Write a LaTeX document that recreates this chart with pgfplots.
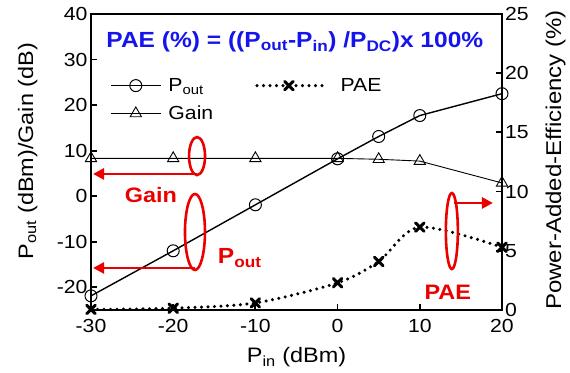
\documentclass[border=0pt]{standalone}
\usepackage{fontspec}
\setmainfont{Liberation Sans}[FakeStretch=1.12]
\usepackage{pgfplots}
\pgfplotsset{compat=1.18}
\usetikzlibrary{arrows.meta}
\definecolor{annred}{RGB}{235,0,0}
\definecolor{titleblue}{RGB}{20,20,235}
\pgfplotsset{
  legA/.style={legend image code/.code={\draw[mark repeat=2,mark phase=2,##1] plot coordinates {(0bp,0bp) (25bp,0bp) (50bp,0bp)};\path (55bp,0bp);}},
  legB/.style={legend image code/.code={\draw[mark repeat=2,mark phase=2,##1] plot coordinates {(0bp,0bp) (32bp,0bp) (65bp,0bp)};\path (80bp,0bp);}},
  gainstyle/.style={black, line width=0.9bp, mark=triangle, mark size=6.5bp, mark options={fill=white, line width=0.9bp}},
  paestyle/.style={black, line width=3.4bp, dash pattern=on 0bp off 6.5bp, line cap=round, mark=x, mark size=6bp, mark options={solid, line width=3bp}},
}
\begin{document}
\begin{tikzpicture}
\useasboundingbox (-91bp,-63bp) rectangle (479bp,310bp);
\pgfplotsset{
  common/.style={
    at={(0,0)}, anchor=south west, scale only axis,
    width=411bp, height=296bp,
    xmin=-30, xmax=20, clip=false,
    /pgf/number format/assume math mode=true,
    tick label style={font=\fontsize{19}{22}\selectfont},
    tick align=inside, major tick length=6bp,
    every tick/.style={black, line width=1.8bp},
    axis line style={line width=2.6bp},
  }
}
\begin{axis}[common,
  ymin=-25, ymax=40, ytick={-20,-10,0,10,20,30,40},
  xtick={-30,-20,-10,0,10,20},
  ytick pos=left, xtick pos=bottom,
  xticklabel style={yshift=-8bp, inner sep=1bp},
  ylabel={P\textsubscript{out} (dBm)/Gain (dB)},
  ylabel style={font=\fontsize{21}{24}\selectfont, at={(axis description cs:-0.141,0.537)}, anchor=base, rotate=0},
  xlabel={P\textsubscript{in} (dBm)},
  xlabel style={font=\fontsize{21}{24}\selectfont, at={(axis description cs:0.5,-0.179)}, anchor=base},
  legend columns=2,
  legend cell align=left,
  legend style={draw=none, fill=none, at={(axis description cs:0.046,0.79)}, anchor=north west,
    inner sep=0pt, font=\fontsize{19}{22}\selectfont, row sep=9bp,
    /tikz/column 2/.style={column sep=40bp}},
]
\addplot[gainstyle, forget plot]
  coordinates {(-30,8.3) (-20,8.3) (-10,8.3) (0,8.3) (5,8.1) (10,7.7) (20,2.9)};
\addplot[black, line width=1.4bp, mark=o, mark size=6bp, mark options={fill=white, line width=1bp}, legA]
  coordinates {(-30,-21.9) (-20,-12.0) (-10,-1.9) (0,8.2) (5,13.1) (10,17.7) (20,22.5)};
\addlegendentry{P\textsubscript{out}}
\addlegendimage{paestyle, legB}
\addlegendentry{PAE}
\addlegendimage{gainstyle, legA}
\addlegendentry{Gain}
\end{axis}
\begin{axis}[common,
  ymin=0, ymax=25, ytick={0,5,10,15,20,25},
  axis x line=none, axis y line*=right,
  yticklabel style={inner sep=1bp, xshift=2bp},
  ylabel={Power-Added-Efficiency (\%)},
  ylabel style={font=\fontsize{21.5}{24}\selectfont, at={(axis description cs:1.144,0.507)}, anchor=base, rotate=0},
]
\addplot[paestyle, smooth, tension=0.5]
  coordinates {(-30,0.05) (-20,0.15) (-10,0.6) (0,2.3) (5,4.1) (10,7.0) (20,5.3)};
\begin{scope}[annred, line width=2.6bp]
\draw (axis cs:-17.1,13.0) ellipse [x radius=8bp, y radius=19bp];
\draw[-{Triangle[length=11bp,width=11bp]}] (axis cs:-17.1,11.49) -- (axis cs:-29.75,11.49);
\draw (axis cs:-17.35,6.59) ellipse [x radius=10bp, y radius=38bp];
\draw[-{Triangle[length=11bp,width=11bp]}] (axis cs:-17.35,3.55) -- (axis cs:-29.75,3.55);
\draw (axis cs:13.9,6.67) ellipse [x radius=6bp, y radius=38bp];
\draw[-{Triangle[length=11bp,width=11bp]}] (axis cs:14.2,9.04) -- (axis cs:18.9,9.04);
\end{scope}
\node[annred, font=\fontsize{21}{24}\selectfont\bfseries] at (axis cs:-22.7,9.71) {Gain};
\node[annred, font=\fontsize{22}{24}\selectfont\bfseries] at (axis cs:-11.9,4.39) {P\textsubscript{out}};
\node[annred, font=\fontsize{21}{24}\selectfont\bfseries] at (axis cs:13.4,1.52) {PAE};
\node[titleblue, font=\fontsize{22}{24}\selectfont\bfseries] at (axis description cs:0.496,0.905)
  {PAE (\%) = ((P\textsubscript{out}-P\textsubscript{in}) /P\textsubscript{DC})x 100\%};
\end{axis}
\end{tikzpicture}
\end{document}
